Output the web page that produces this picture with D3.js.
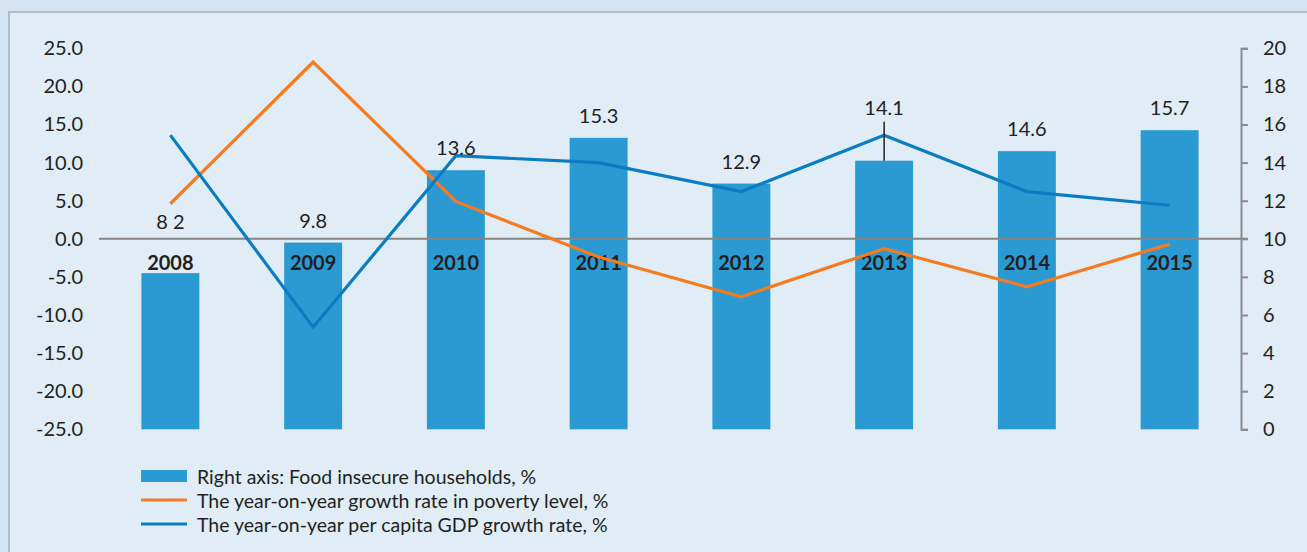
<!DOCTYPE html>
<html>
<head>
<meta charset="utf-8">
<script src="https://cdn.jsdelivr.net/npm/d3@7"></script>
<style>
  html, body { margin: 0; padding: 0; background: #d4e4f3; }
  svg { display: block; }
  text { font-family: Lato, "Open Sans", sans-serif; fill: #231f20; }
</style>
</head>
<body>
<svg id="chart" width="1307" height="552"></svg>
<script>
// Years on the category axis
const years = ["2008", "2009", "2010", "2011", "2012", "2013", "2014", "2015"];
// Right axis: share of food insecure households, %
const foodInsecure = [8.2, 9.8, 13.6, 15.3, 12.9, 14.1, 14.6, 15.7];
const foodInsecureLabels = ["8 2", "9.8", "13.6", "15.3", "12.9", "14.1", "14.6", "15.7"];
// Left axis: year-on-year growth rate in poverty level, %
const povertyGrowth = [4.6, 23.2, 4.9, -2.4, -7.6, -1.3, -6.3, -0.7];
// Left axis: year-on-year per capita GDP growth rate, %
const gdpGrowth = [13.6, -11.6, 10.9, 10.0, 6.2, 13.6, 6.2, 4.4];
// Tick values
const leftTicks = [-25, -20, -15, -10, -5, 0, 5, 10, 15, 20, 25];
const rightTicks = [0, 2, 4, 6, 8, 10, 12, 14, 16, 18, 20];
// Legend entries
const legendItems = [
  { label: "Right axis: Food insecure households, %", kind: "bar", color: "#2b9ad3" },
  { label: "The year-on-year growth rate in poverty level, %", kind: "line", color: "#f47b20" },
  { label: "The year-on-year per capita GDP growth rate, %", kind: "line", color: "#0a7dc2" }
];

const svg = d3.select("#chart");
const W = 1307, H = 552;

// Panel background with a thin frame on the left and top
svg.append("rect").attr("x", 0).attr("y", 0).attr("width", W).attr("height", H).attr("fill", "#d4e4f3");
svg.append("rect").attr("x", 9).attr("y", 12).attr("width", W - 9).attr("height", H - 12).attr("fill", "#e0ecf6");
svg.append("path").attr("d", `M9,${H}V12H${W}`).attr("fill", "none").attr("stroke", "#b3bcc6").attr("stroke-width", 2);

const plotLeft = 99, plotRight = 1241, plotTop = 48.3, plotBottom = 429.3;

const x = d3.scaleBand().domain(years).range([plotLeft, plotRight]).paddingInner(0.594).paddingOuter(0.297);
const yL = d3.scaleLinear().domain([-25, 25]).range([plotBottom, plotTop]);
const yR = d3.scaleLinear().domain([0, 20]).range([plotBottom, plotTop]);
const cx = d => x(d) + x.bandwidth() / 2;

// Bars (right axis)
svg.append("g").selectAll("rect").data(years).join("rect")
  .attr("x", d => x(d))
  .attr("y", (d, i) => yR(foodInsecure[i]))
  .attr("width", x.bandwidth())
  .attr("height", (d, i) => yR(0) - yR(foodInsecure[i]))
  .attr("fill", "#2b9ad3");

// Zero line of the left axis
svg.append("line")
  .attr("x1", plotLeft).attr("x2", plotRight + 7)
  .attr("y1", yL(0)).attr("y2", yL(0))
  .attr("stroke", "#858585").attr("stroke-width", 2);

// Left axis, with a plain hyphen for negative values
const fmtLeft = d => d3.format(".1f")(d).replace("\u2212", "-");
const gL = svg.append("g").attr("transform", `translate(${plotLeft},0)`)
  .call(d3.axisLeft(yL).tickValues(leftTicks).tickFormat(fmtLeft).tickSize(0).tickPadding(16));
gL.select(".domain").remove();
gL.selectAll("text").style("font-size", "20px").style("font-family", "Lato, sans-serif").attr("fill", "#231f20");

// Right axis
const gR = svg.append("g").attr("transform", `translate(${plotRight},0)`)
  .call(d3.axisRight(yR).tickValues(rightTicks).tickSize(7).tickSizeOuter(7).tickPadding(15));
gR.select(".domain").attr("stroke", "#8c8c8c").attr("stroke-width", 2);
gR.selectAll(".tick line").attr("stroke", "#8c8c8c").attr("stroke-width", 2);
gR.selectAll("text").style("font-size", "20px").style("font-family", "Lato, sans-serif").attr("fill", "#231f20");

// Year labels sitting on the bars below the zero line
const gX = svg.append("g").attr("transform", `translate(0,${yL(0)})`)
  .call(d3.axisBottom(x).tickSize(0).tickPadding(17));
gX.select(".domain").remove();
gX.selectAll("text").style("font-size", "20px").style("font-weight", "bold")
  .style("font-family", "Lato, sans-serif").attr("fill", "#231f20");

// Lines (left axis)
const line = vals => d3.line().x((d, i) => cx(years[i])).y(d => yL(d))(vals);
svg.append("path").attr("d", line(povertyGrowth))
  .attr("fill", "none").attr("stroke", "#f47b20").attr("stroke-width", 3.2).attr("stroke-linejoin", "miter");
svg.append("path").attr("d", line(gdpGrowth))
  .attr("fill", "none").attr("stroke", "#0a7dc2").attr("stroke-width", 3.2).attr("stroke-linejoin", "miter");

// Value labels over the bars; two of them are lifted clear of the lines
const liftDefault = 23;
const liftOverride = { "2008": 52, "2013": 54 };
const lift = d => liftOverride[d] !== undefined ? liftOverride[d] : liftDefault;

// Leader from the lifted 2013 label down to its bar
svg.append("line")
  .attr("x1", cx("2013")).attr("x2", cx("2013"))
  .attr("y1", yR(foodInsecure[5]) - lift("2013") + 15)
  .attr("y2", yR(foodInsecure[5]))
  .attr("stroke", "#231f20").attr("stroke-width", 1.5);

svg.append("g").selectAll("text").data(years).join("text")
  .attr("x", d => cx(d))
  .attr("y", (d, i) => yR(foodInsecure[i]) - lift(d))
  .attr("text-anchor", "middle")
  .attr("dominant-baseline", "central")
  .style("font-size", "20px")
  .text((d, i) => foodInsecureLabels[i]);

// Legend
const lg = svg.append("g").attr("transform", "translate(141,476)");
legendItems.forEach((it, i) => {
  const row = lg.append("g").attr("transform", `translate(0,${i * 24})`);
  if (it.kind === "bar") {
    row.append("rect").attr("x", 0).attr("y", -6).attr("width", 46).attr("height", 12).attr("fill", it.color);
  } else {
    row.append("line").attr("x1", 0).attr("x2", 46).attr("y1", 0).attr("y2", 0)
      .attr("stroke", it.color).attr("stroke-width", 3.2);
  }
  row.append("text").attr("x", 56).attr("y", 0).attr("dominant-baseline", "central")
    .style("font-size", "19.5px").text(it.label);
});
</script>
</body>
</html>
